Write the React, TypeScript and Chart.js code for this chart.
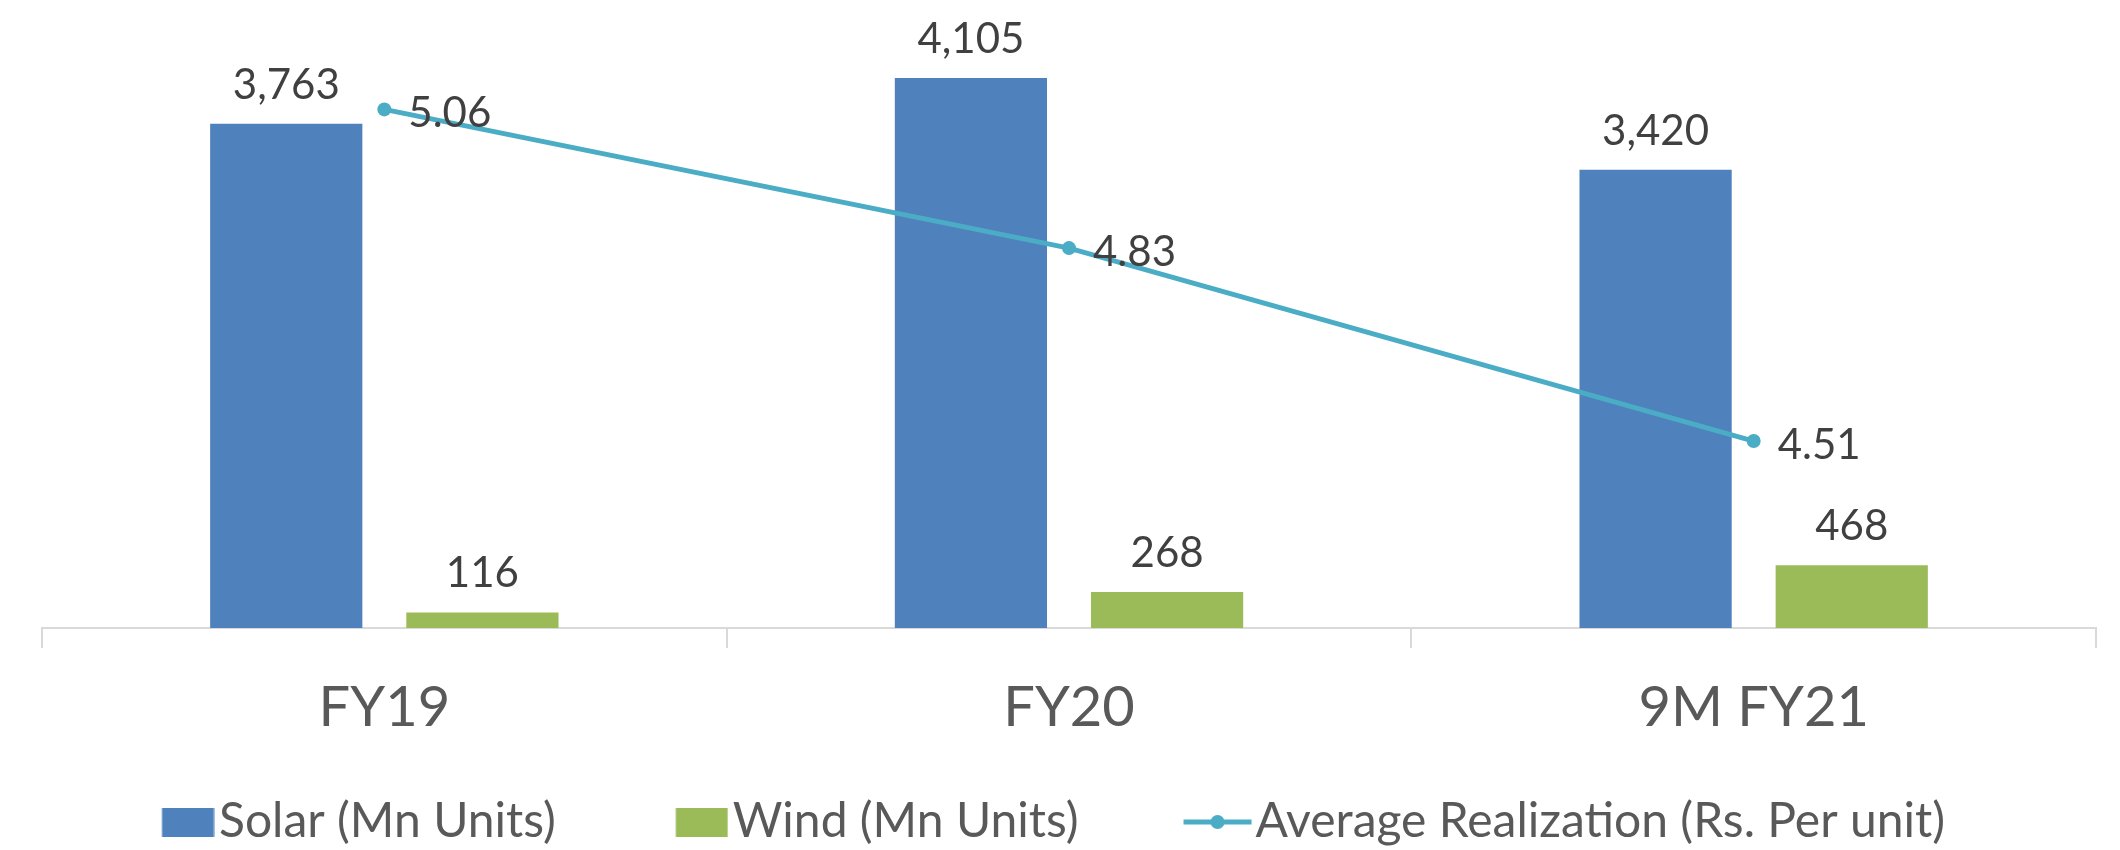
import React, { useEffect, useRef } from "react";
import { Chart, registerables } from "chart.js";

Chart.register(...registerables);

// Generation by year
const categories = ["FY19", "FY20", "9M FY21"];
const solarUnits = [3763, 4105, 3420];
const windUnits = [116, 268, 468];
const avgRealization = [5.06, 4.83, 4.51];
const seriesLabels = ["Solar (Mn Units)", "Wind (Mn Units)", "Average Realization (Rs. Per unit)"];

const SOLAR = "#4F81BD";
const WIND = "#9BBB59";
const LINE = "#4BACC6";
const AXIS_GREY = "#D9D9D9";
const TEXT_GREY = "#595959";
const LABEL_DARK = "#404040";
const FONT = "Lato, 'Open Sans', sans-serif";

// legend geometry
const LEGEND_FONT = 48;
const LEGEND_PAD = 10;
const BOX_SLOT = 143;
const CHART_BOTTOM = 628;
const LAYOUT_BOTTOM = -6;

// Legend swatch on an offscreen canvas. The legend centres the image on its
// box slot, so the drawing is offset to finish `gap` px before the label text.
function makeSwatch(
  width: number,
  height: number,
  gap: number,
  draw: (ctx: CanvasRenderingContext2D, x0: number, w: number, h: number) => void
) {
  const textOffset = BOX_SLOT + LEGEND_FONT / 2;
  const centre = BOX_SLOT / 2;
  const relRight = textOffset - gap - centre;
  const relLeft = relRight - width;
  const half = Math.ceil(Math.max(Math.abs(relLeft), Math.abs(relRight)));
  const c = document.createElement("canvas");
  c.width = half * 2;
  c.height = height;
  const ctx = c.getContext("2d")!;
  draw(ctx, half + relLeft, width, height);
  return c;
}

const valueLabels = {
  id: "valueLabels",
  afterDatasetsDraw(chart: any) {
    const ctx = chart.ctx as CanvasRenderingContext2D;
    ctx.save();
    ctx.fillStyle = LABEL_DARK;
    ctx.font = `42px ${FONT}`;
    ctx.textBaseline = "alphabetic";
    chart.data.datasets.forEach((ds: any, di: number) => {
      const meta = chart.getDatasetMeta(di);
      meta.data.forEach((el: any, i: number) => {
        const v = ds.data[i] as number;
        if (meta.type === "bar") {
          ctx.textAlign = "center";
          ctx.fillText(v.toLocaleString("en-US"), el.x, el.y - 25);
        } else {
          ctx.textAlign = "left";
          ctx.fillText(v.toFixed(2), el.x + 24, el.y + 18);
        }
      });
    });
    ctx.restore();
  },
};

export default function App() {
  const canvasRef = useRef<HTMLCanvasElement | null>(null);

  useEffect(() => {
    let chart: Chart | null = null;
    let cancelled = false;

    const build = () => {
      if (cancelled || !canvasRef.current) return;

      const barSwatch = (color: string) =>
        makeSwatch(52, 29, 5, (ctx, x0, w, h) => {
          ctx.fillStyle = color;
          ctx.fillRect(x0, 0, w, h);
        });

      const lineSwatch = makeSwatch(68, 16, 4, (ctx, x0, w, h) => {
        ctx.strokeStyle = LINE;
        ctx.lineWidth = 5;
        ctx.beginPath();
        ctx.moveTo(x0, h / 2);
        ctx.lineTo(x0 + w, h / 2);
        ctx.stroke();
        ctx.fillStyle = LINE;
        ctx.beginPath();
        ctx.arc(x0 + w / 2, h / 2, 7, 0, Math.PI * 2);
        ctx.fill();
      });

      const legendItems = [
        { text: seriesLabels[0], pointStyle: barSwatch(SOLAR), fillStyle: SOLAR, strokeStyle: SOLAR, lineWidth: 0, hidden: false, datasetIndex: 0, fontColor: TEXT_GREY },
        { text: seriesLabels[1], pointStyle: barSwatch(WIND), fillStyle: WIND, strokeStyle: WIND, lineWidth: 0, hidden: false, datasetIndex: 1, fontColor: TEXT_GREY },
        { text: seriesLabels[2], pointStyle: lineSwatch, fillStyle: LINE, strokeStyle: LINE, lineWidth: 0, hidden: false, datasetIndex: 2, fontColor: TEXT_GREY },
      ];

      const legendHeight = LEGEND_FONT + LEGEND_PAD + 10;

      chart = new Chart(canvasRef.current, {
        type: "bar",
        data: {
          labels: categories,
          datasets: [
            {
              type: "bar",
              label: seriesLabels[0],
              data: solarUnits,
              backgroundColor: SOLAR,
              borderWidth: 0,
              yAxisID: "y",
              categoryPercentage: 0.573,
              barPercentage: 0.776,
              order: 1,
            },
            {
              type: "bar",
              label: seriesLabels[1],
              data: windUnits,
              backgroundColor: WIND,
              borderWidth: 0,
              yAxisID: "y",
              categoryPercentage: 0.573,
              barPercentage: 0.776,
              order: 1,
            },
            {
              type: "line",
              label: seriesLabels[2],
              data: avgRealization,
              borderColor: LINE,
              backgroundColor: LINE,
              borderWidth: 5,
              pointRadius: 7,
              pointHoverRadius: 7,
              pointBorderWidth: 0,
              pointBackgroundColor: LINE,
              tension: 0,
              yAxisID: "y2",
              order: 0,
            },
          ],
        } as any,
        options: {
          animation: false,
          responsive: true,
          maintainAspectRatio: false,
          layout: { padding: { left: 42, right: 24, top: 25, bottom: LAYOUT_BOTTOM } },
          plugins: {
            tooltip: { enabled: false },
            legend: {
              position: "bottom",
              align: "start",
              labels: {
                usePointStyle: true,
                pointStyleWidth: BOX_SLOT,
                padding: LEGEND_PAD,
                color: TEXT_GREY,
                font: { family: FONT, size: LEGEND_FONT },
                generateLabels: () => legendItems as any,
              },
            },
          },
          scales: {
            x: {
              offset: true,
              grid: {
                offset: true,
                drawOnChartArea: false,
                drawTicks: true,
                tickLength: 20,
                color: AXIS_GREY,
                lineWidth: 2,
              },
              border: { display: true, color: AXIS_GREY, width: 2 },
              ticks: {
                color: TEXT_GREY,
                font: { family: FONT, size: 56, lineHeight: 1 },
                padding: 32,
                maxRotation: 0,
                autoSkip: false,
              },
              afterFit: (scale: any) => {
                scale.height = 850 - LAYOUT_BOTTOM - legendHeight - CHART_BOTTOM;
              },
            },
            y: { display: false, min: 0, max: 4500 },
            y2: { display: false, min: 4.2, max: 5.2, position: "right", grid: { drawOnChartArea: false } },
          },
        } as any,
        plugins: [valueLabels],
      });
    };

    if (document.fonts && document.fonts.load) {
      Promise.all([
        document.fonts.load(`42px Lato`),
        document.fonts.load(`56px Lato`),
      ]).then(build, build);
    } else {
      build();
    }

    return () => {
      cancelled = true;
      if (chart) chart.destroy();
    };
  }, []);

  return (
    <div style={{ position: "fixed", left: 0, top: 0, width: 2120, height: 850, background: "#fff" }}>
      <canvas ref={canvasRef} />
    </div>
  );
}
